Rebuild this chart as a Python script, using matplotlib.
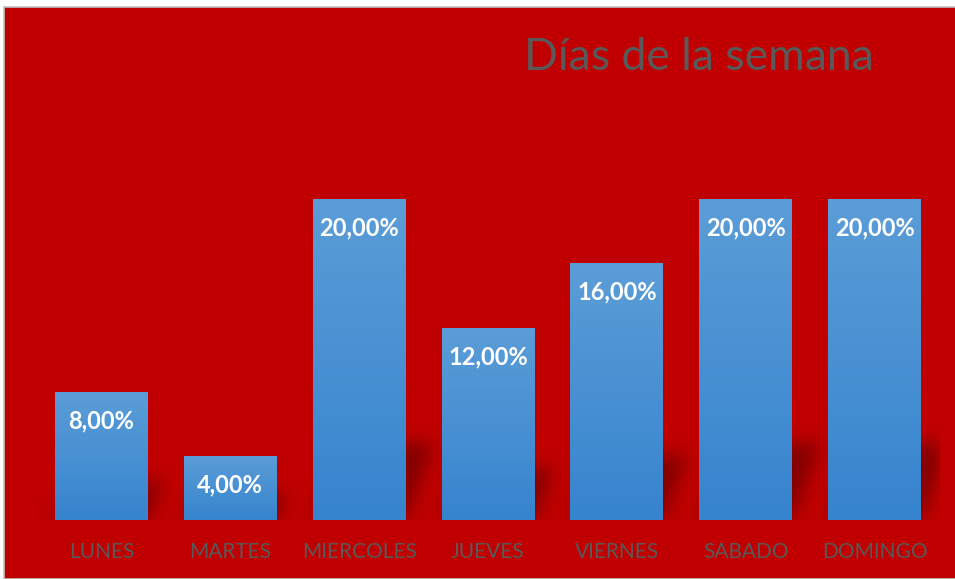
import numpy as np
import matplotlib
matplotlib.use("Agg")
import matplotlib.pyplot as plt
from matplotlib.patches import Rectangle

dias = ["LUNES", "MARTES", "MIERCOLES", "JUEVES", "VIERNES", "SABADO", "DOMINGO"]
valores = [0.08, 0.04, 0.20, 0.12, 0.16, 0.20, 0.20]
titulo = "Días de la semana"

W, H = 955, 579
fondo = "#C00000"
gris = "#595959"
azulTop = np.array([91, 157, 215]) / 255
azulBot = np.array([54, 132, 206]) / 255

plt.rcParams["font.family"] = ["Lato", "DejaVu Sans"]

fig = plt.figure(figsize=(W / 100, H / 100), dpi=100)
fig.patch.set_facecolor("white")
fig.patches.append(Rectangle((4 / W, 0), 1, 1 - 7 / H, transform=fig.transFigure,
                             facecolor=fondo, edgecolor="#BFBFBF", linewidth=1.2, zorder=-10))

# axes placed in pixels: x 37..939, baseline at y=520 (from top)
axL, axR, axB, axT = 37, 939, 520, 119
ax = fig.add_axes([axL / W, (H - axB) / H, (axR - axL) / W, (axB - axT) / H])
ax.set_facecolor("none")
n = len(dias)
for s in ax.spines.values():
    s.set_visible(False)
ax.set_yticks([])
ax.set_xticks(range(n))
ax.set_xticklabels(dias, fontsize=15, color=gris)
ax.tick_params(axis="x", length=0, pad=16)

ancho = 0.72

# soft cast shadow behind each bar (pixel grid, blurred)
pw, ph = axR - axL, axB - axT + 40
ytop = 0.25 * ph / (axB - axT)
xs = np.linspace(-0.5, n - 0.5, pw)
ys = np.linspace(0, ytop, ph)
X, Y = np.meshgrid(xs, ys)
mask = np.zeros_like(X)
for i, v in enumerate(valores):
    hs = 0.2 * v + 0.008
    x0 = i - ancho / 2 + Y * 4.5
    x1 = i + ancho / 2 + Y * 4.5
    mask[(Y <= hs) & (X >= x0) & (X <= x1)] = 1

def blur(a, s):
    k = np.exp(-0.5 * (np.arange(-3 * s, 3 * s + 1) / s) ** 2)
    k /= k.sum()
    a = np.apply_along_axis(lambda r: np.convolve(r, k, mode="same"), 1, a)
    a = np.apply_along_axis(lambda c: np.convolve(c, k, mode="same"), 0, a)
    return a

mask = blur(mask, 9)
sombra = np.zeros((ph, pw, 4))
sombra[..., 0] = 0.5
sombra[..., 3] = np.clip(mask * 0.95, 0, 1)
ax.imshow(sombra, origin="lower", extent=(-0.5, n - 0.5, 0, ytop),
          aspect="auto", zorder=1, interpolation="bilinear")

# bars with vertical gradient
grad = np.linspace(0, 1, 256)
img = np.zeros((256, 1, 3))
for c in range(3):
    img[:, 0, c] = azulBot[c] + (azulTop[c] - azulBot[c]) * grad
barras = ax.bar(range(n), valores, width=ancho, color="none", zorder=2)
for b, v in zip(barras, valores):
    x0 = b.get_x()
    im = ax.imshow(img, origin="lower", extent=(x0, x0 + b.get_width(), 0, v),
                   aspect="auto", zorder=2)
    im.set_clip_path(b)
    ax.annotate(f"{v * 100:.2f}%".replace(".", ","), (b.get_x() + b.get_width() / 2, v),
                xytext=(0, -29), textcoords="offset pixels", ha="center", va="center",
                fontsize=17, fontweight="bold", color="white", zorder=3)
ax.set_xlim(-0.5, n - 0.5)
ax.set_ylim(0, 0.25)

fig.text(699 / W, 1 - 57 / H, titulo, ha="center", va="center", fontsize=32, color=gris)

fig.savefig("out.png", dpi=100, facecolor=fig.get_facecolor())
